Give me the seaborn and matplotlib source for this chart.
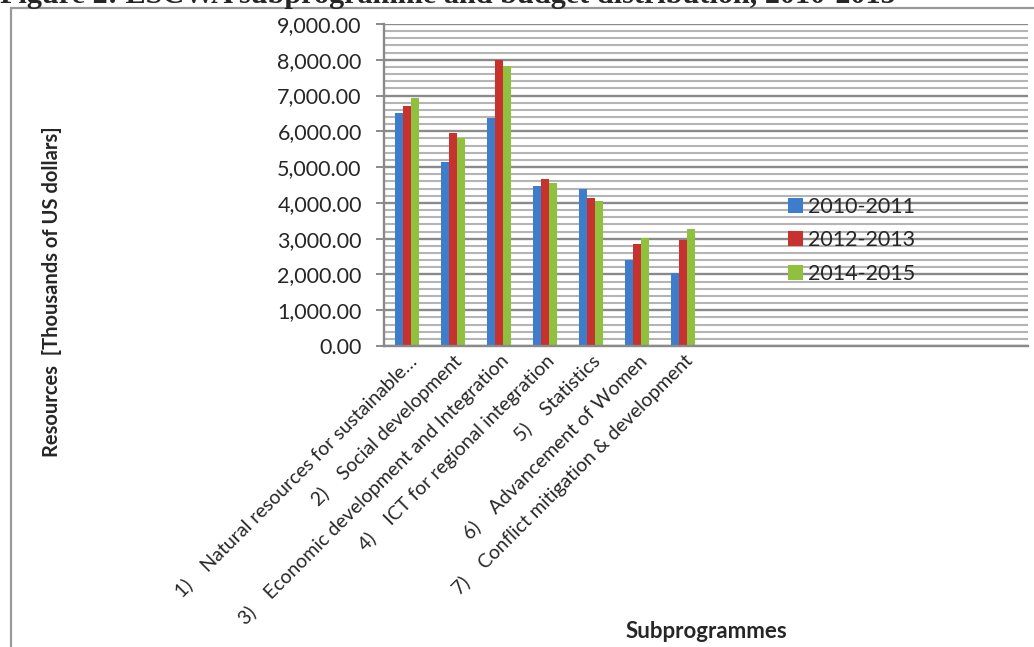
import matplotlib
matplotlib.use("Agg")
import matplotlib.pyplot as plt
import seaborn as sns
import pandas as pd
from matplotlib.ticker import MultipleLocator, FuncFormatter
from matplotlib.patches import Rectangle, Patch

categories = [
    "1)    Natural resources for sustainable\u2026",
    "2)    Social development",
    "3)    Economic development and Integration",
    "4)    ICT for regional integration",
    "5)    Statistics",
    "6)    Advancement of Women",
    "7)    Conflict mitigation & development",
]
periods = ["2010-2011", "2012-2013", "2014-2015"]
v_2010_2011 = [6520, 5140, 6360, 4480, 4400, 2400, 2030]
v_2012_2013 = [6710, 5960, 8000, 4670, 4150, 2860, 2950]
v_2014_2015 = [6940, 5820, 7830, 4560, 4060, 3010, 3270]
colors = ["#3D7DCB", "#C8322E", "#8FC13E"]

rows = []
for p, vals in zip(periods, [v_2010_2011, v_2012_2013, v_2014_2015]):
    for c, v in zip(categories, vals):
        rows.append({"sub": c, "val": v, "period": p})
df = pd.DataFrame(rows)

sns.set_style("white")
plt.rcParams["font.family"] = ["Lato", "DejaVu Sans"]

W, H = 1034, 647
fig = plt.figure(figsize=(W / 100, H / 100), dpi=100)
ax = fig.add_axes([384 / W, 1 - 346 / H, 644 / W, 322 / H])

sns.barplot(data=df, x="sub", y="val", hue="period", order=categories,
            hue_order=periods, palette=colors, width=0.52, saturation=1,
            linewidth=0, ax=ax, legend=False)

ax.set_xlim(-0.5, 13.5)
ax.set_ylim(0, 9000)
ax.yaxis.set_major_locator(MultipleLocator(1000))
ax.yaxis.set_minor_locator(MultipleLocator(200))
ax.yaxis.set_major_formatter(FuncFormatter(lambda v, p: f"{v:,.2f}"))
ax.set_axisbelow(True)
ax.grid(which="major", axis="y", color="#8a8a8a", linewidth=1.7)
ax.grid(which="minor", axis="y", color="#b4b4b4", linewidth=1.5)
ax.grid(which="major", axis="x", visible=False)

for s in ["top", "right"]:
    ax.spines[s].set_visible(False)
for s in ["left", "bottom"]:
    ax.spines[s].set_color("#8a8a8a")
    ax.spines[s].set_linewidth(1.7)

ax.tick_params(axis="y", which="major", length=6, width=1.4, color="#8a8a8a",
               labelsize=15.5, pad=10, left=True)
ax.tick_params(axis="y", which="minor", length=0)
ax.tick_params(axis="x", length=0, pad=4)
ax.set_xticks(range(len(categories)))
ax.set_xticklabels(categories, rotation=45, ha="right", va="top",
                   rotation_mode="anchor", fontsize=14)
ax.set_xlabel("")
ax.set_ylabel("")

handles = [Patch(facecolor=c, edgecolor="none") for c in colors]
ax.legend(handles, periods, loc="center left", bbox_to_anchor=(0.627, 0.328),
          frameon=False, fontsize=15.5, handlelength=0.7, handleheight=0.7,
          handletextpad=0.25, labelspacing=0.62, borderpad=0, borderaxespad=0)

fig.text(52 / W, 1 - 292 / H, "Resources  [Thousands of US dollars]",
         rotation=90, ha="center", va="center", fontsize=14.5, fontweight="bold")
fig.text(706 / W, 1 - 638 / H, "Subprogrammes", ha="center", va="baseline",
         fontsize=16, fontweight="bold")

fig.text(0.0, 1 - 3 / H, "Figure 2: ESCWA subprogramme and budget distribution, 2010-2015",
         ha="left", va="baseline", fontsize=21.8, fontweight="bold",
         family=["Liberation Serif", "DejaVu Serif"])

fig.add_artist(Rectangle((11 / W, -0.1), 1.2, 1 - 8 / H + 0.1,
                         transform=fig.transFigure, fill=False,
                         edgecolor="#999999", linewidth=1.6))

fig.savefig("out.png", dpi=100)
